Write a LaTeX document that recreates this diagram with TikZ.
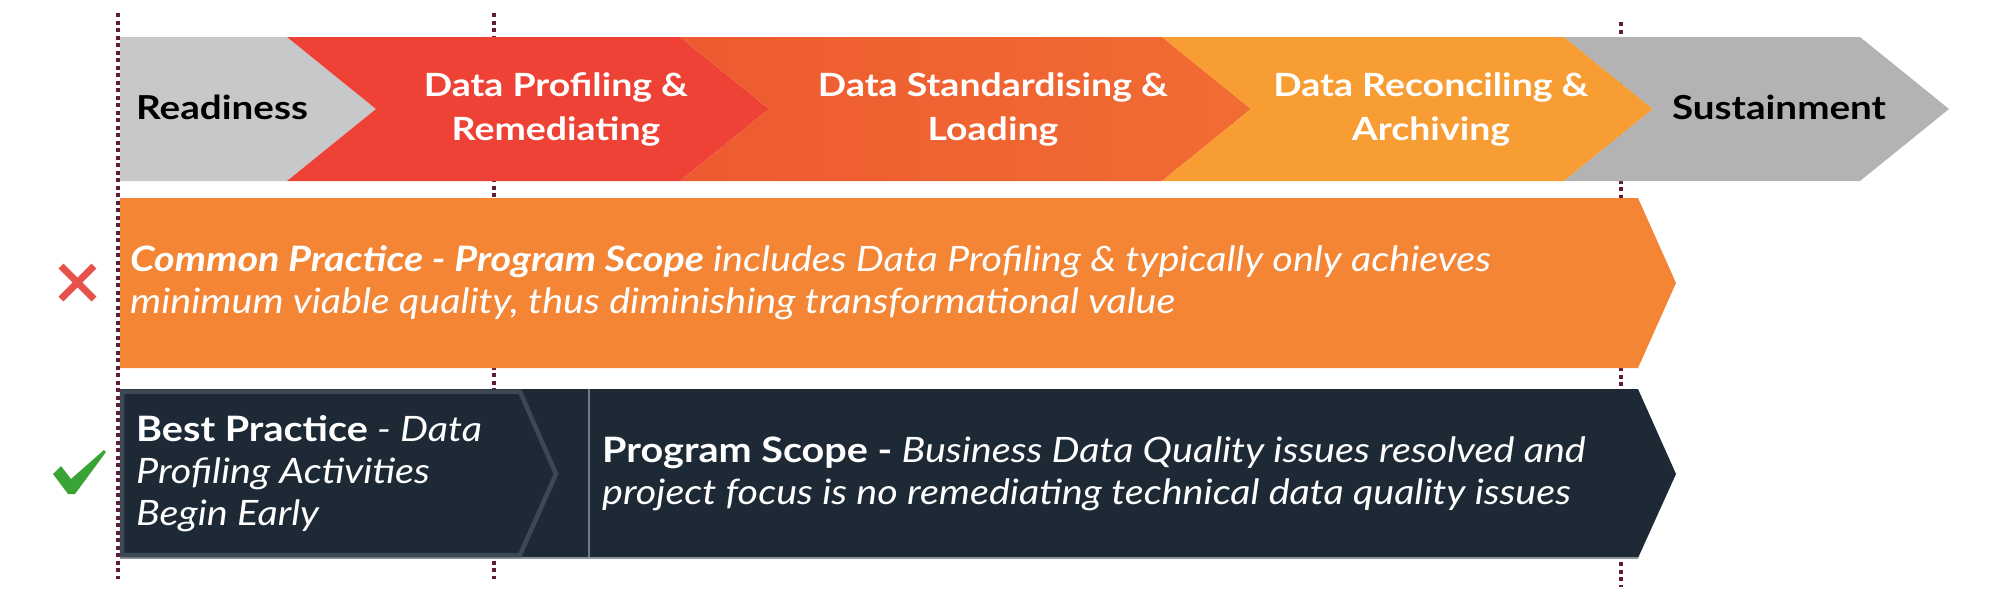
\documentclass[tikz,border=0pt]{standalone}
\usepackage{fontspec}
\setmainfont{Lato}
\newfontfamily\topfont{Lato}[FakeStretch=1.17]
\newfontfamily\rowfont{Lato}[FakeStretch=1.13]
\definecolor{guidecol}{HTML}{611C3A}
\definecolor{readcol}{HTML}{C7C8CA}
\definecolor{redcol}{HTML}{EE4236}
\definecolor{stdL}{HTML}{EE5A31}
\definecolor{stdR}{HTML}{F16C32}
\definecolor{reccol}{HTML}{F89D33}
\definecolor{suscol}{HTML}{B3B3B3}
\definecolor{rowtwo}{HTML}{F38535}
\definecolor{darkcol}{HTML}{1D2A35}
\definecolor{innercol}{HTML}{3C4853}
\definecolor{divcol}{HTML}{6E7A85}
\definecolor{botcol}{HTML}{8D959C}
\definecolor{crosscol}{HTML}{E6524A}
\definecolor{checkcol}{HTML}{3AA335}
\tikzset{
  guide/.style={draw=guidecol, line width=3.5pt, dash pattern=on 4pt off 3.5pt},
  phasedark/.style={font=\topfont\fontsize{33}{44}\selectfont\bfseries, text=black, align=center, inner sep=0pt},
  phaselight/.style={font=\topfont\fontsize{32}{44}\selectfont\bfseries, text=white, align=center, inner sep=0pt},
  rowtext/.style={font=\rowfont\fontsize{35}{42}\selectfont\itshape, text=white, align=left, inner sep=0pt, anchor=west},
}
\begin{document}
\begin{tikzpicture}[x=1pt,y=-1pt]
\useasboundingbox (0,0) rectangle (2000,600);
% guide lines (behind)
\coordinate (g1t) at (118,13);  \coordinate (g1b) at (118,579);
\coordinate (g2t) at (494,13);  \coordinate (g2b) at (494,579);
\coordinate (g3t) at (1621,22); \coordinate (g3b) at (1621,587);
\draw[guide] (g1t) -- (g1b);
\draw[guide] (g2t) -- (g2b);
\draw[guide] (g3t) -- (g3b);
% top chevrons
\fill[readcol] (120,37) -- (287,37) -- (376,109) -- (287,181) -- (120,181) -- cycle;
\fill[redcol] (287,37) -- (680,37) -- (769,109) -- (680,181) -- (287,181) -- (376,109) -- cycle;
\shade[left color=stdL, right color=stdR] (680,37) -- (1162,37) -- (1251,109) -- (1162,181) -- (680,181) -- (769,109) -- cycle;
\fill[reccol] (1162,37) -- (1564,37) -- (1653,109) -- (1564,181) -- (1162,181) -- (1251,109) -- cycle;
\fill[suscol] (1564,37) -- (1860,37) -- (1949,109) -- (1860,181) -- (1564,181) -- (1653,109) -- cycle;
\node[phasedark, anchor=base] (readiness) at (222,119) {Readiness};
\node[phaselight] (profiling) at (556,109) {Data Profiling \&\\Remediating};
\node[phaselight] (standard) at (993,109) {Data Standardising \&\\Loading};
\node[phaselight] (reconcile) at (1431,109) {Data Reconciling \&\\Archiving};
\node[phasedark, anchor=base] (sustain) at (1779,119) {Sustainment};
% row 2
\fill[rowtwo] (120,198) -- (1638,198) -- (1676,283) -- (1638,368) -- (120,368) -- cycle;
\node[rowtext] (common) at (130,283) {{\bfseries Common Practice - Program Scope} includes Data Profiling \& typically only achieves\\minimum viable quality, thus diminishing transformational value};
\draw[crosscol, line width=7pt] (61,266) -- (94,299) (61,299) -- (94,266);
% row 3
\fill[darkcol] (120,389) -- (1638,389) -- (1676,474) -- (1638,558) -- (120,558) -- cycle;
\draw[botcol, line width=1.5pt] (120,558) -- (1638,558);
\draw[innercol, line width=4.5pt, fill=darkcol] (122,391.5) -- (520,391.5) -- (556,474) -- (520,555) -- (122,555) -- cycle;
\draw[divcol, line width=1.5pt] (589,389) -- (589,557);
\node[rowtext] (best) at (136,474) {{\bfseries\upshape Best Practice} - Data\\Profiling Activities\\Begin Early};
\node[rowtext] (scope) at (602,474) {{\bfseries\upshape Program Scope -} Business Data Quality issues resolved and\\project focus is no remediating technical data quality issues};
\fill[checkcol] (53,474) -- (61,466) -- (71,479) -- (104,450) -- (106,452) -- (75,494) -- (68,494) -- cycle;
\end{tikzpicture}
\end{document}
